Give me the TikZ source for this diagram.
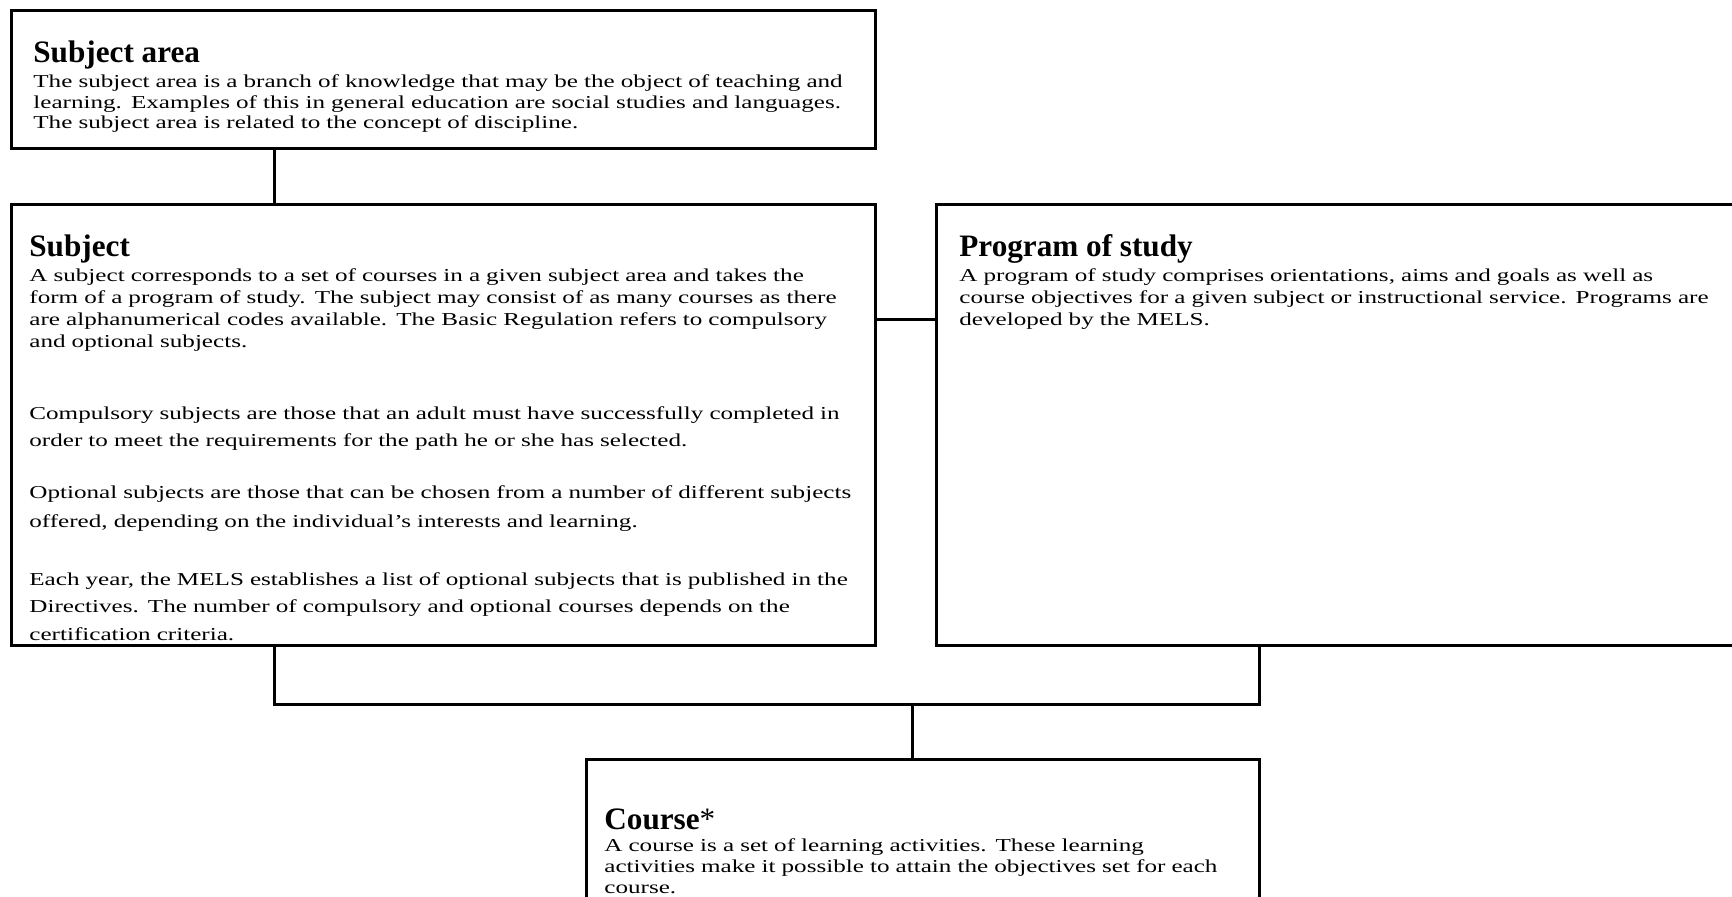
\documentclass[tikz,border=0pt]{standalone}
\usepackage{fontspec}
\setmainfont{Liberation Serif}
\newfontfamily\bodyfont[FakeStretch=1.38]{Liberation Serif}
\begin{document}
\begin{tikzpicture}[x=0.5pt,y=-0.5pt,
  box/.style={draw, line width=1.5pt, inner sep=0pt, outer sep=0pt, anchor=north west},
  conn/.style={line width=1.5pt},
  ttl/.style={anchor=base west, inner sep=0pt, font=\bfseries\fontsize{15.6pt}{18pt}\selectfont},
  txt/.style={anchor=base west, inner sep=0pt, align=left, text width=520pt,
    font=\bodyfont\fontsize{9.1pt}{#1}\selectfont},
  txt/.default=11pt]
\useasboundingbox (0,0) rectangle (1732,897);

% boxes
\node[box, minimum width=432pt, minimum height=69pt] (area) at (11,11) {};
\node[box, minimum width=432pt, minimum height=220pt] (subj) at (11,205) {};
\node[box, minimum width=402pt, minimum height=220pt] (prog) at (936,205) {};
\node[box, minimum width=336.5pt, minimum height=90pt] (course) at (586,759) {};

% connectors
\coordinate (j1) at (274,0);
\coordinate (hy) at (0,320);
\coordinate (busL) at (274,704);
\coordinate (busR) at (1259,704);
\coordinate (busC) at (912,704);
\draw[conn] (area.south -| j1) -- (subj.north -| j1);
\draw[conn] (subj.east |- hy) -- (prog.west |- hy);
\draw[conn] (subj.south -| busL) -- (busL) -- (busR) -- (prog.south -| busR);
\draw[conn] (busC) -- (course.north -| busC);

% Subject area
\node[ttl] (areaT) at (33,63) {Subject area};
\node[txt=10.25pt] (areaP) at (33,88) {The subject area is a branch of knowledge that may be the object of teaching and\\
learning. Examples of this in general education are social studies and languages.\\
The subject area is related to the concept of discipline.};

% Subject
\node[ttl] (subjT) at (29,257) {Subject};
\node[txt=11pt] (subjP1) at (29,282) {A subject corresponds to a set of courses in a given subject area and takes the\\
form of a program of study. The subject may consist of as many courses as there\\
are alphanumerical codes available. The Basic Regulation refers to compulsory\\
and optional subjects.};
\node[txt=13.25pt] (subjP2) at (29,420) {Compulsory subjects are those that an adult must have successfully completed in\\
order to meet the requirements for the path he or she has selected.};
\node[txt=14.9pt] (subjP3) at (29,498) {Optional subjects are those that can be chosen from a number of different subjects\\
offered, depending on the individual’s interests and learning.};
\node[txt=13.8pt] (subjP4) at (29,585) {Each year, the MELS establishes a list of optional subjects that is published in the\\
Directives. The number of compulsory and optional courses depends on the\\
certification criteria.};

% Program of study
\node[ttl] (progT) at (959,257) {Program of study};
\node[txt=11pt] (progP) at (959,282) {A program of study comprises orientations, aims and goals as well as\\
course objectives for a given subject or instructional service. Programs are\\
developed by the MELS.};

% Course
\node[ttl] (courseT) at (604,829) {Course\textmd{*}};
\node[txt=10.5pt] (courseP) at (604,851) {A course is a set of learning activities. These learning\\
activities make it possible to attain the objectives set for each\\
course.};
\end{tikzpicture}
\end{document}
